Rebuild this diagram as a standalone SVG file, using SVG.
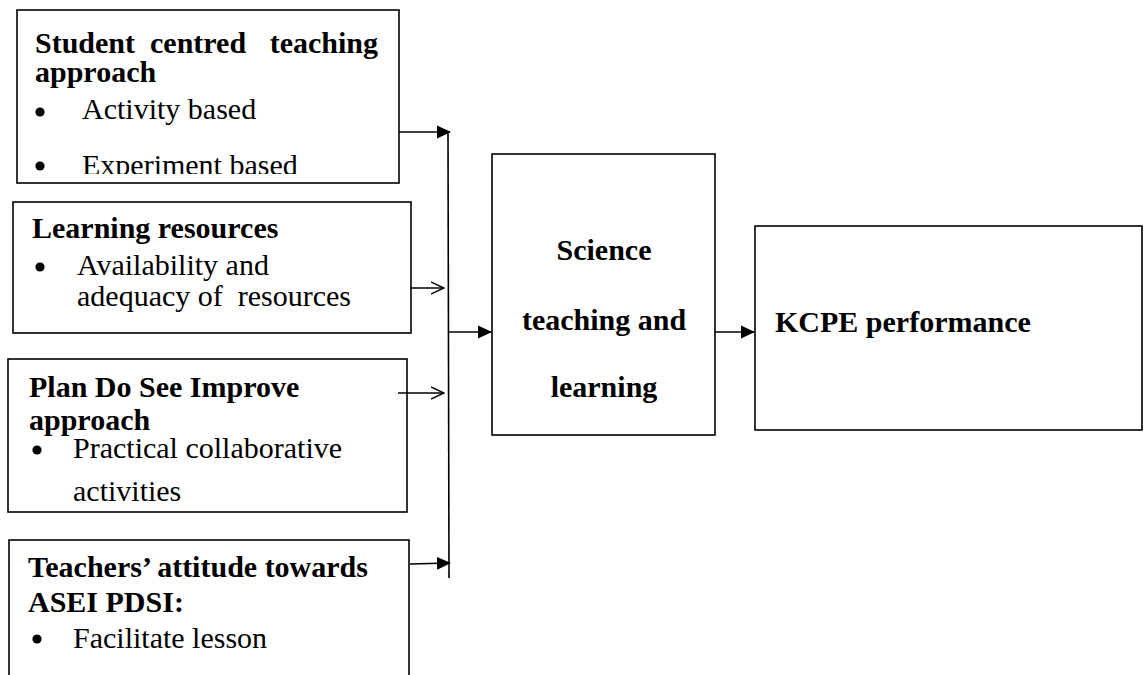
<svg xmlns="http://www.w3.org/2000/svg" width="1144" height="675" viewBox="0 0 1144 675">
<style>
.box{fill:#fff;stroke:#000;stroke-width:1.6}
.b{font-family:"Liberation Serif","Times New Roman",serif;font-weight:bold;font-size:30px;fill:#000}
.r{font-family:"Liberation Serif","Times New Roman",serif;font-size:30px;fill:#000;white-space:pre}
.c{stroke:#000;stroke-width:1.6;fill:none}
.dot{fill:#000}
</style>
<defs>
<marker id="fa" markerWidth="14" markerHeight="14" refX="13" refY="6.5" orient="auto" markerUnits="userSpaceOnUse" viewBox="0 0 14 13">
<path d="M0,0 L14,6.5 L0,13 Z" fill="#000"/>
</marker>
<marker id="oa" markerWidth="14" markerHeight="14" refX="13" refY="7" orient="auto" markerUnits="userSpaceOnUse" viewBox="0 0 14 14">
<path d="M0,1 L13,7 L0,13" fill="none" stroke="#000" stroke-width="1.4"/>
</marker>
<clipPath id="clip1"><rect x="17" y="10" width="382" height="164"/></clipPath>
</defs>
<rect width="1144" height="675" fill="#fff"/>

<g id="student-centred">
<rect class="box" x="17" y="10" width="382" height="173"/>
<g clip-path="url(#clip1)">
<text class="b" y="53"><tspan x="35">Student</tspan><tspan x="150">centred</tspan><tspan x="378" text-anchor="end">teaching</tspan></text>
<text class="b" x="35" y="82">approach</text>
<circle class="dot" cx="40" cy="112" r="4.6"/>
<text class="r" x="82" y="119">Activity based</text>
<circle class="dot" cx="40" cy="166" r="4.6"/>
<text class="r" x="82" y="175">Experiment based</text>
</g>
</g>

<g id="learning-resources">
<rect class="box" x="13" y="202" width="398" height="131"/>
<text class="b" x="32" y="238">Learning resources</text>
<circle class="dot" cx="40" cy="267" r="4.6"/>
<text class="r" x="77" y="275">Availability and</text>
<text class="r" x="77" y="306">adequacy of  resources</text>
</g>

<g id="pdsi">
<rect class="box" x="8" y="359" width="399" height="153"/>
<text class="b" x="29" y="397">Plan Do See Improve</text>
<text class="b" x="29" y="430">approach</text>
<circle class="dot" cx="37" cy="450" r="4.6"/>
<text class="r" x="73" y="458">Practical collaborative</text>
<text class="r" x="73" y="501">activities</text>
</g>

<g id="teachers-attitude">
<rect class="box" x="9" y="540" width="400" height="150"/>
<text class="b" x="28" y="577">Teachers’ attitude towards</text>
<text class="b" x="28" y="612">ASEI PDSI:</text>
<circle class="dot" cx="37" cy="639" r="4.6"/>
<text class="r" x="73" y="648">Facilitate lesson</text>
</g>

<g id="science">
<rect class="box" x="492" y="154" width="223" height="281"/>
<text class="b" x="604" y="260" text-anchor="middle">Science</text>
<text class="b" x="604" y="330" text-anchor="middle">teaching and</text>
<text class="b" x="604" y="397" text-anchor="middle">learning</text>
</g>

<g id="kcpe">
<rect class="box" x="755" y="226" width="387" height="204"/>
<text class="b" x="775" y="332">KCPE performance</text>
</g>

<g id="connectors">
<line class="c" x1="448" y1="132" x2="449" y2="578"/>
<line class="c" x1="399" y1="132" x2="450" y2="132" marker-end="url(#fa)"/>
<line class="c" x1="410" y1="288" x2="444" y2="288" marker-end="url(#oa)"/>
<line class="c" x1="398" y1="393" x2="444" y2="393" marker-end="url(#oa)"/>
<line class="c" x1="448" y1="332" x2="491" y2="332" marker-end="url(#fa)"/>
<line class="c" x1="410" y1="564" x2="450" y2="563" marker-end="url(#fa)"/>
<line class="c" x1="715" y1="332" x2="754" y2="332" marker-end="url(#fa)"/>
</g>
</svg>
